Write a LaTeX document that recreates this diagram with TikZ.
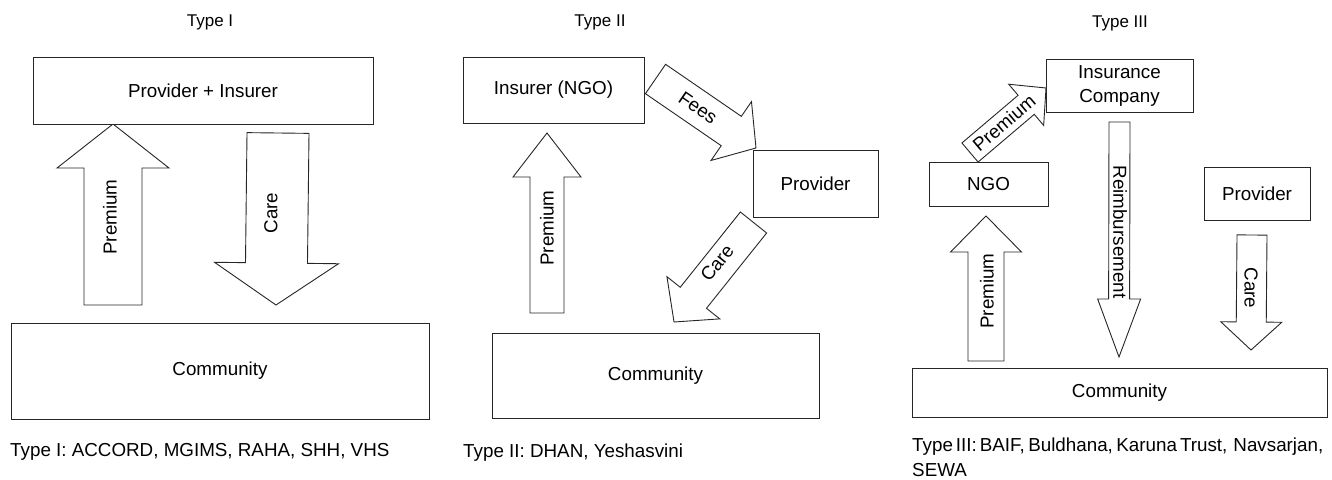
\documentclass[tikz,border=0pt]{standalone}
\usepackage{fontspec}
\setmainfont{Liberation Sans}
\usetikzlibrary{calc}
\tikzset{
  lbl/.style={font=\fontsize{18.8}{24}\selectfont, inner sep=0pt},
  ttl/.style={font=\fontsize{17}{20}\selectfont, inner sep=0pt},
  boxnode/.style={draw=black!85, line width=0.9pt, fill=white, inner sep=0pt,
    font=\fontsize{18.8}{24}\selectfont, align=center},
  blockarrow/.style={draw=black!85, line width=0.9pt, fill=white, line join=miter},
}
% #1 tail, #2 tip, #3 half shaft width, #4 half head width, #5 head length
\newcommand\blockarr[5]{%
  \coordinate (hb) at ($(#2)!#5pt!(#1)$);
  \draw[blockarrow] ($(#1)!#3pt!90:(#2)$) -- ($(hb)!#3pt!90:(#2)$) --
    ($(hb)!#4pt!90:(#2)$) -- (#2) -- ($(hb)!#4pt!-90:(#2)$) --
    ($(hb)!#3pt!-90:(#2)$) -- ($(#1)!#3pt!-90:(#2)$) -- cycle;}
\begin{document}
\begin{tikzpicture}[x=1pt,y=-1pt]
\useasboundingbox (0,0) rectangle (1332,479);

% titles
\node[ttl] (t1) at (210,22) {Type I};
\node[ttl] (t2) at (600,22) {Type II};
\node[ttl] (t3) at (1120,23) {Type III};

% ---------- Type I ----------
\coordinate (a1t) at (113,305); \coordinate (a1h) at (113,124);
\blockarr{a1t}{a1h}{29}{56}{44}
\coordinate (a2t) at (278,133); \coordinate (a2h) at (276,305);
\blockarr{a2t}{a2h}{31}{62}{42}
\node[boxnode, minimum width=340pt, minimum height=67pt] (pi) at (203,90.5) {Provider + Insurer};
\node[boxnode, minimum width=418pt, minimum height=96pt] (c1) at (220,371) {Community};
\node[lbl, rotate=90] (l1) at (110,217) {Premium};
\node[lbl, rotate=90] (l2) at (271,213) {Care};
\node[lbl, anchor=west] (cap1) at (10,452) {Type I: ACCORD, MGIMS, RAHA, SHH, VHS};

% ---------- Type II ----------
\coordinate (a3t) at (547,313); \coordinate (a3h) at (547,133);
\blockarr{a3t}{a3h}{17}{34}{44}
\coordinate (a4t) at (655.5,79); \coordinate (a4h) at (756,148);
\blockarr{a4t}{a4h}{17.8}{35.7}{30}
\coordinate (a5t) at (753.5,222.5); \coordinate (a5h) at (674,322);
\blockarr{a5t}{a5h}{16.8}{33.8}{31}
\node[boxnode, minimum width=181pt, minimum height=66pt] (ins) at (553.5,90) {Insurer (NGO)};
\node[boxnode, minimum width=125pt, minimum height=67pt] (pv2) at (815.5,183.5) {Provider};
\node[boxnode, minimum width=327pt, minimum height=85pt] (c2) at (655.5,375.5) {Community};
\node[lbl, rotate=90] (l3) at (547,228) {Premium};
\node[lbl, rotate=-34.5] (l4) at (698,108) {Fees};
\node[lbl, rotate=51.4] (l5) at (717,263) {Care};
\node[lbl, anchor=west] (cap2) at (463,453) {Type II: DHAN, Yeshasvini};

% ---------- Type III ----------
\coordinate (a6t) at (970,152.5); \coordinate (a6h) at (1046,88);
\blockarr{a6t}{a6h}{12.5}{27}{26}
\coordinate (a7t) at (1119.5,122); \coordinate (a7h) at (1119,357);
\blockarr{a7t}{a7h}{10.5}{21.5}{58}
\coordinate (a8t) at (1252,235); \coordinate (a8h) at (1251,350);
\blockarr{a8t}{a8h}{15}{30.5}{28}
\coordinate (a9t) at (986,361); \coordinate (a9h) at (986,216);
\blockarr{a9t}{a9h}{18}{35.5}{36}
\node[boxnode, minimum width=147pt, minimum height=53pt] (ic) at (1119.5,85.5) {Insurance\\Company};
\node[boxnode, minimum width=119pt, minimum height=44pt] (ngo) at (988.5,184) {NGO};
\node[boxnode, minimum width=106pt, minimum height=53pt] (pv3) at (1257,193.5) {Provider};
\node[boxnode, minimum width=415pt, minimum height=49pt] (c3) at (1119.5,392.5) {Community};
\node[lbl, rotate=40.3] (l6) at (1004,123) {Premium};
\node[lbl, rotate=-90] (l7) at (1120,232) {Reimbursement};
\node[lbl, rotate=-90] (l8) at (1251,288) {Care};
\node[lbl, rotate=90] (l9) at (987,291) {Premium};
\node[lbl, anchor=north west, align=left, font=\fontsize{18.8}{25}\selectfont] (cap3) at (912,438)
  {Type\hspace{3pt}III:\hspace{3pt}BAIF,\hspace{3.5pt}Buldhana,\hspace{3.5pt}Karuna\hspace{3pt}Trust,\hspace{6pt}Navsarjan,\\SEWA};
\end{tikzpicture}
\end{document}
